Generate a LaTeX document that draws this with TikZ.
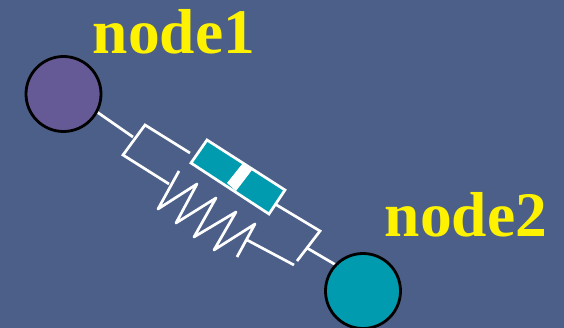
\documentclass[tikz,border=0pt]{standalone}
\usepackage{fontspec}
\setmainfont{Liberation Serif}
\definecolor{bgc}{RGB}{75,95,136}
\definecolor{purp}{RGB}{102,90,150}
\definecolor{teal2}{RGB}{0,155,175}
\definecolor{yel}{RGB}{255,242,0}
\tikzset{
  ball/.style={circle,draw=black,line width=2.8pt,inner sep=0pt,minimum size=75pt},
  wire/.style={draw=white,line width=2.7pt,line join=miter},
  lab/.style={text=yel,font=\fontsize{63.5pt}{63.5pt}\selectfont\bfseries,inner sep=0pt,anchor=base west}
}
\begin{document}
\begin{tikzpicture}[x=1pt,y=-1pt]
\path[use as bounding box,fill=bgc] (0,0) rectangle (564,328);
\clip (0,0) rectangle (564,328);
\coordinate (a1) at (97,112);
\coordinate (a2) at (133,137);
\coordinate (tl) at (145,125);
\coordinate (bl) at (123,155);
\coordinate (t1) at (190,153);
\coordinate (b1) at (169,184);
\coordinate (p1) at (207,140);
\coordinate (p2) at (285,190);
\coordinate (p3) at (269,214);
\coordinate (p4) at (191,163);
\coordinate (w1) at (243,163);
\coordinate (w2) at (252,170);
\coordinate (w3) at (236,191);
\coordinate (w4) at (227,183);
\coordinate (t2) at (275,204);
\coordinate (tr) at (320,231);
\coordinate (br) at (297,261);
\coordinate (brr) at (294,265);
\coordinate (b2) at (247,240);
\coordinate (c1) at (307,248);
\coordinate (c2) at (336,265);
\draw[wire] (a1) -- (a2);
\draw[wire] (t1) -- (tl) -- (bl) -- (b1);
\draw[wire] (t2) -- (tr) -- (br);
\draw[wire] (brr) -- (b2);
\draw[wire] (c1) -- (c2);
\draw[wire,fill=teal2] (p1) -- (p2) -- (p3) -- (p4) -- cycle;
\fill[white] (w1) -- (w2) -- (w3) -- (w4) -- cycle;
\draw[wire,line join=round] (179,171) -- (158,209) -- (197,184) -- (176,223) -- (216,198) -- (194,237) -- (236,212) -- (214,250) -- (255,224) -- (237,257);
\node[ball,fill=purp] (n1) at (63.5,94) {};
\node[ball,fill=teal2] (n2) at (363,291) {};
\node[lab] (l1) at (92.5,54) {node1};
\node[lab] (l2) at (384.5,237) {node2};
\end{tikzpicture}
\end{document}
